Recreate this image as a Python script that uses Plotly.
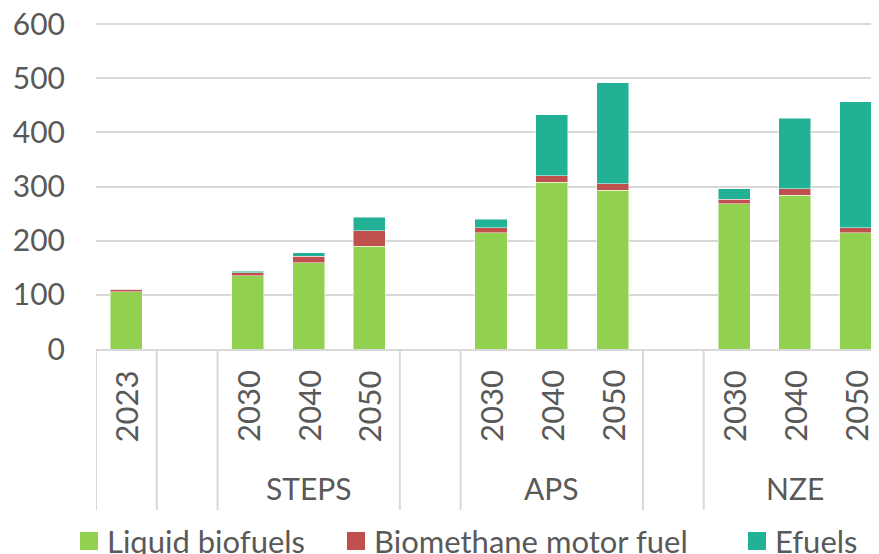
import plotly.graph_objects as go

# ---- data ----
slots = ["2023", "gap1", "STEPS 2030", "STEPS 2040", "STEPS 2050", "gap2",
         "APS 2030", "APS 2040", "APS 2050", "gap3", "NZE 2030", "NZE 2040", "NZE 2050"]
bar_slots = ["2023", "STEPS 2030", "STEPS 2040", "STEPS 2050",
             "APS 2030", "APS 2040", "APS 2050", "NZE 2030", "NZE 2040", "NZE 2050"]
year_labels = ["2023", "2030", "2040", "2050", "2030", "2040", "2050", "2030", "2040", "2050"]
groups = ["STEPS", "APS", "NZE"]
group_centers = ["STEPS 2040", "APS 2040", "NZE 2040"]
y_ticks = [0, 100, 200, 300, 400, 500, 600]

liquid_biofuels = [106, 135, 159, 190, 215, 308, 293, 268, 284, 215]
biomethane = [4, 6, 12, 28, 9, 12, 12, 9, 12, 9]
efuels = [0.5, 3, 7, 25, 16, 113, 187, 19, 130, 233]

series = [
    ("Liquid biofuels", liquid_biofuels, "#92D050"),
    ("Biomethane motor fuel", biomethane, "#C0504D"),
    ("Efuels", efuels, "#21B195"),
]

FONT = "Lato"
TXT = "#595959"
GRID = "#D9D9D9"

fig = go.Figure()
for name, vals, col in series:
    fig.add_trace(go.Bar(x=bar_slots, y=vals, name=name, marker_color=col,
                         marker_line=dict(color="rgba(255,255,255,0.6)", width=0.8),
                         showlegend=False))

W, H = 879, 554
OFF = 8  # page body offset
L, T = 96 - OFF, 15
B_PX = 349 - OFF
plot_h = B_PX - T
SLOT_PX = 60.77
x_max = -0.5 + (W - L) / SLOT_PX

def py(pix):
    return (B_PX - (pix - OFF)) / plot_h

def px(pix):
    return (pix - OFF - L) / (W - L)

def idx(s):
    return slots.index(s)

fig.update_layout(
    width=W, height=H, barmode="stack", bargap=0.473,
    margin=dict(l=L, r=0, t=T, b=H - B_PX, autoexpand=False),
    plot_bgcolor="white", paper_bgcolor="white",
    font=dict(family=FONT, color=TXT, size=30),
    xaxis=dict(type="category", categoryorder="array", categoryarray=slots,
               range=[-0.5, x_max], showticklabels=False, showgrid=False,
               showline=True, linecolor=GRID, linewidth=2, zeroline=False, ticks=""),
    yaxis=dict(range=[0, 602], tickvals=y_ticks,
               showgrid=True, gridcolor=GRID, gridwidth=2, zeroline=False,
               showline=False, ticks="", ticklabelstandoff=30,
               ticklabeloverflow="allow",
               tickfont=dict(size=30, color=TXT, family=FONT)),
)

# dividers between categories
for b in [-0.5, 0.5, 1.5, 4.5, 5.5, 8.5, 9.5]:
    fig.add_shape(type="line", xref="x", yref="paper", x0=b, x1=b,
                  y0=0, y1=py(510), line=dict(color=GRID, width=2))

# year labels
for s, lab in zip(bar_slots, year_labels):
    fig.add_annotation(x=idx(s), xref="x", y=py(406), yref="paper", text=lab,
                       textangle=-90, showarrow=False, yanchor="middle",
                       xanchor="center", font=dict(size=31, color=TXT, family=FONT))
# group labels
for s, g in zip(group_centers, groups):
    fig.add_annotation(x=idx(s), xref="x", y=py(488), yref="paper", text=g,
                       showarrow=False, yanchor="middle", xanchor="center",
                       font=dict(size=30, color=TXT, family=FONT))

# manual legend
leg_y = 541
leg_pos = [80, 347, 748]
sq = 18
for (name, vals, col), x0 in zip(series, leg_pos):
    fig.add_shape(type="rect", xref="paper", yref="paper",
                  x0=px(x0), x1=px(x0 + sq),
                  y0=py(leg_y + sq / 2), y1=py(leg_y - sq / 2),
                  fillcolor=col, line=dict(width=0))
    fig.add_annotation(x=px(x0 + sq + 7), xref="paper", y=py(leg_y),
                       yref="paper", text=name, showarrow=False, xanchor="left",
                       yanchor="middle", font=dict(size=31, color=TXT, family=FONT))

fig.write_html("out.html")
